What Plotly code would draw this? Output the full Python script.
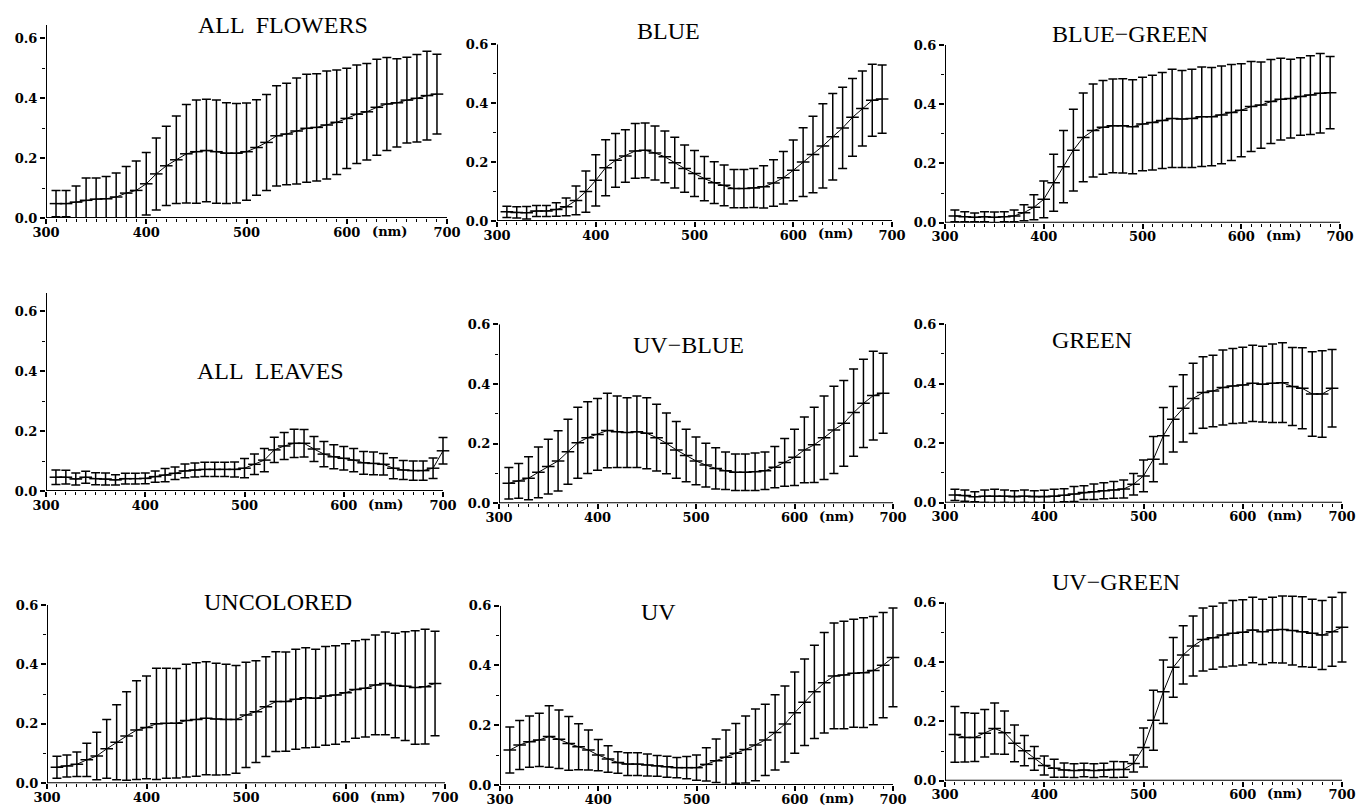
import plotly.graph_objects as go

# ---------------- data ----------------
WAVELENGTHS = [310, 320, 330, 340, 350, 360, 370, 380, 390, 400,
               410, 420, 430, 440, 450, 460, 470, 480, 490, 500,
               510, 520, 530, 540, 550, 560, 570, 580, 590, 600,
               610, 620, 630, 640, 650, 660, 670, 680, 690]
WAVELENGTHS_700 = WAVELENGTHS + [700]
X_TICKS = [300, 400, 500, 600, 700]
Y_TICKS = [0.0, 0.2, 0.4, 0.6]

TITLES = ["ALL  FLOWERS", "BLUE", "BLUE\u2212GREEN",
          "ALL  LEAVES", "UV\u2212BLUE", "GREEN",
          "UNCOLORED", "UV", "UV\u2212GREEN"]

all_flowers_mean = [.048, .048, .053, .059, .063, .064, .070, .083, .092, .114,
                    .147, .174, .194, .214, .221, .225, .221, .216, .216, .221,
                    .235, .252, .274, .280, .290, .299, .302, .310, .319, .332,
                    .346, .354, .369, .380, .384, .393, .399, .408, .413]
all_flowers_sd = [.044, .044, .054, .074, .070, .074, .080, .089, .098, .104,
                  .120, .132, .146, .164, .172, .171, .172, .168, .166, .162,
                  .159, .160, .167, .169, .177, .180, .179, .180, .174, .167,
                  .164, .161, .160, .155, .147, .143, .146, .148, .133]

blue_mean = [.031, .029, .028, .034, .034, .039, .048, .070, .100, .138,
             .181, .206, .221, .238, .240, .231, .218, .198, .178, .161,
             .144, .130, .121, .110, .110, .112, .116, .129, .147, .172,
             .200, .226, .255, .286, .316, .352, .382, .410, .414]
blue_sd = [.019, .019, .021, .019, .019, .023, .030, .049, .070, .087,
           .095, .091, .089, .093, .093, .092, .088, .086, .080, .078,
           .075, .071, .069, .065, .065, .066, .072, .079, .089, .103,
           .117, .130, .143, .147, .138, .132, .127, .122, .116]

blue_green_mean = [.023, .020, .018, .020, .018, .020, .023, .034, .052, .079,
                   .135, .189, .245, .288, .311, .322, .327, .327, .324, .333,
                   .338, .345, .352, .350, .352, .358, .358, .364, .372, .380,
                   .392, .397, .409, .417, .419, .426, .431, .437, .439]
blue_green_sd = [.020, .017, .015, .017, .018, .017, .020, .027, .042, .062,
                 .096, .122, .138, .150, .157, .158, .158, .159, .159, .158,
                 .160, .162, .166, .164, .166, .168, .166, .165, .162, .157,
                 .152, .146, .142, .138, .133, .131, .133, .134, .122]

all_leaves_mean = [.046, .046, .040, .046, .041, .040, .037, .041, .041, .042,
                   .048, .053, .059, .067, .070, .072, .072, .072, .072, .076,
                   .089, .103, .137, .150, .159, .159, .140, .123, .114, .109,
                   .103, .094, .092, .089, .076, .070, .068, .068, .076, .134]
all_leaves_sd = [.024, .023, .020, .020, .020, .020, .017, .018, .018, .018,
                 .019, .022, .021, .023, .023, .024, .024, .024, .025, .032,
                 .034, .039, .042, .045, .047, .046, .042, .042, .040, .039,
                 .039, .038, .038, .036, .035, .032, .032, .032, .034, .044]

uv_blue_mean = [.067, .075, .084, .104, .123, .142, .173, .203, .220, .231,
                .244, .240, .237, .240, .235, .220, .201, .179, .160, .142,
                .128, .117, .109, .104, .104, .106, .109, .121, .137, .154,
                .179, .196, .220, .246, .268, .304, .335, .361, .369]
uv_blue_sd = [.053, .058, .072, .085, .092, .101, .109, .119, .120, .120,
              .125, .120, .117, .120, .119, .112, .102, .095, .088, .080,
              .073, .069, .063, .061, .061, .063, .063, .069, .080, .094,
              .110, .126, .140, .146, .144, .146, .148, .149, .134]

green_mean = [.026, .024, .020, .022, .022, .022, .020, .022, .020, .020,
              .022, .025, .029, .034, .037, .040, .043, .046, .062, .090,
              .146, .225, .280, .317, .350, .370, .375, .387, .392, .395,
              .401, .398, .401, .403, .390, .384, .365, .365, .384]
green_sd = [.019, .019, .017, .021, .023, .021, .020, .021, .020, .022,
            .023, .022, .025, .023, .026, .027, .028, .030, .036, .053,
            .076, .095, .110, .113, .118, .120, .120, .126, .126, .127,
            .128, .127, .132, .134, .131, .136, .142, .145, .130]

uncolored_mean = [.054, .058, .064, .079, .092, .116, .138, .159, .179, .188,
                  .200, .202, .202, .211, .215, .219, .216, .215, .215, .230,
                  .241, .258, .275, .275, .283, .288, .286, .294, .297, .305,
                  .316, .320, .331, .336, .329, .327, .322, .325, .336]
uncolored_sd = [.037, .037, .041, .056, .080, .099, .126, .149, .166, .173,
                .187, .185, .184, .190, .191, .190, .188, .186, .181, .177,
                .171, .168, .168, .167, .168, .168, .165, .166, .166, .165,
                .164, .164, .168, .173, .176, .183, .191, .193, .176]

uv_mean = [.117, .134, .145, .151, .162, .153, .139, .128, .117, .100,
           .087, .075, .070, .070, .067, .064, .061, .058, .058, .058,
           .069, .081, .093, .106, .119, .134, .151, .176, .204, .242,
           .277, .312, .342, .365, .368, .374, .376, .383, .401, .427]
uv_sd = [.077, .082, .086, .089, .103, .098, .090, .077, .067, .052,
         .044, .036, .038, .038, .037, .035, .035, .034, .037, .042,
         .056, .073, .091, .100, .112, .120, .119, .126, .127, .136,
         .145, .156, .168, .177, .180, .181, .184, .181, .176, .165]

uv_green_mean = [.156, .146, .146, .160, .176, .162, .126, .101, .075, .051,
                 .042, .036, .034, .036, .034, .036, .038, .038, .058, .112,
                 .204, .300, .382, .424, .454, .476, .482, .491, .497, .500,
                 .508, .502, .508, .510, .506, .502, .497, .491, .502, .517]
uv_green_sd = [.094, .083, .081, .080, .086, .073, .062, .051, .040, .032,
               .030, .024, .023, .023, .023, .023, .027, .026, .029, .066,
               .101, .107, .101, .098, .101, .106, .106, .108, .110, .110,
               .110, .110, .110, .113, .116, .118, .115, .116, .116, .117]

SERIES = [
    (WAVELENGTHS, all_flowers_mean, all_flowers_sd),
    (WAVELENGTHS, blue_mean, blue_sd),
    (WAVELENGTHS, blue_green_mean, blue_green_sd),
    (WAVELENGTHS_700, all_leaves_mean, all_leaves_sd),
    (WAVELENGTHS, uv_blue_mean, uv_blue_sd),
    (WAVELENGTHS, green_mean, green_sd),
    (WAVELENGTHS, uncolored_mean, uncolored_sd),
    (WAVELENGTHS_700, uv_mean, uv_sd),
    (WAVELENGTHS_700, uv_green_mean, uv_green_sd),
]

# ---------------- layout geometry (pixels) ----------------
W, H = 1356, 806
X_LO, X_HI, X_PAD = 300, 700, 8   # axis line spans X_LO..X_HI; range padded to the right
# x0/x1: pixel of 300/700 nm; y0/y6: pixel of 0.0/0.6; line_top: top of y-axis line; r_top: axis range top
GEOM = [
    dict(x0=46, x1=447, y0=218, y6=38, line_top=0.643, r_top=0.643),
    dict(x0=497, x1=892, y0=221, y6=44.3, line_top=0.6, r_top=0.6),
    dict(x0=945, x1=1340, y0=222.7, y6=45, line_top=0.6, r_top=0.6),
    dict(x0=46, x1=443, y0=491, y6=311, line_top=0.66, r_top=0.66),
    dict(x0=499, x1=893, y0=503.3, y6=324.3, line_top=0.6, r_top=0.6),
    dict(x0=945, x1=1342, y0=502.7, y6=324, line_top=0.6, r_top=0.6),
    dict(x0=47, x1=445, y0=783.3, y6=605, line_top=0.6, r_top=0.6),
    dict(x0=500, x1=893, y0=785, y6=605.7, line_top=0.6, r_top=0.6),
    dict(x0=945, x1=1342, y0=780.7, y6=602.7, line_top=0.6, r_top=0.645),
]
TITLE_POS = [(283, 25), (668, 31), (1130, 34), (270, 371), (688, 345),
             (1092, 340), (278, 602), (658, 612), (1116, 582)]

TICK_FONT = dict(family="DejaVu Serif", size=13, color="black", weight=700)
TITLE_FONT = dict(family="Liberation Serif", size=24, color="black")

fig = go.Figure()
layout = dict(width=W, height=H, margin=dict(l=0, r=0, t=0, b=0, autoexpand=False),
              paper_bgcolor="white", plot_bgcolor="white", showlegend=False,
              template="none")
annotations = []
shapes = []

for i, ((wl, mean, sd), g) in enumerate(zip(SERIES, GEOM), start=1):
    sfx = "" if i == 1 else str(i)
    ppu = (g["y0"] - g["y6"]) / 0.6              # pixels per unit (y)
    ppn = (g["x1"] - g["x0"]) / (X_HI - X_LO)    # pixels per nm (x)
    dom_y = [1 - g["y0"] / H, 1 - (g["y0"] - g["r_top"] * ppu) / H]
    dom_x = [g["x0"] / W, (g["x1"] + X_PAD * ppn) / W]

    fig.add_trace(go.Scatter(
        x=wl, y=mean, mode="lines+markers",
        xaxis="x" + sfx, yaxis="y" + sfx,
        line=dict(color="black", width=1),
        marker=dict(symbol="line-ew", size=9, line=dict(color="black", width=1.5)),
        error_y=dict(type="data", array=sd, symmetric=True, color="black",
                     thickness=1.5, width=4.5),
        hoverinfo="x+y",
    ))

    layout["xaxis" + sfx] = dict(
        domain=dom_x, range=[X_LO, X_HI + X_PAD], anchor="y" + sfx,
        automargin=False,
        showline=False, showgrid=False, zeroline=False,
        tickvals=X_TICKS, ticks="outside", ticklen=5,
        tickwidth=1.5, tickcolor="black", tickfont=TICK_FONT,
        ticklabelstandoff=-3,
        minor=dict(dtick=10, tick0=300, ticks="outside", ticklen=3,
                   tickwidth=1, tickcolor="black", showgrid=False),
    )
    layout["yaxis" + sfx] = dict(
        domain=dom_y, range=[0, g["r_top"]], anchor="x" + sfx,
        automargin=False,
        showline=False, showgrid=False, zeroline=False,
        tickvals=Y_TICKS, tickformat=".1f",
        ticks="outside", ticklen=5, tickwidth=1.5, tickcolor="black",
        tickfont=TICK_FONT,
        minor=dict(tickvals=[0.1, 0.3, 0.5], ticks="outside", ticklen=3,
                   tickwidth=1, tickcolor="black", showgrid=False),
    )
    # axis lines
    shapes.append(dict(type="line", xref="x" + sfx, yref="y" + sfx,
                       x0=X_LO, x1=X_LO, y0=0, y1=g["line_top"],
                       line=dict(color="black", width=2), layer="above"))
    shapes.append(dict(type="line", xref="x" + sfx, yref="y" + sfx,
                       x0=X_LO, x1=X_HI, y0=0, y1=0,
                       line=dict(color="black", width=2), layer="above"))
    # (nm) label
    annotations.append(dict(text="(nm)", xref="x" + sfx, yref="paper",
                            x=643, y=1 - (g["y0"] + 13) / H,
                            xanchor="center", yanchor="middle",
                            showarrow=False, font=TICK_FONT))
    # panel title
    tx, ty = TITLE_POS[i - 1]
    annotations.append(dict(text=TITLES[i - 1], xref="paper", yref="paper",
                            x=tx / W, y=1 - ty / H, xanchor="center",
                            yanchor="middle", showarrow=False, font=TITLE_FONT))

layout["annotations"] = annotations
layout["shapes"] = shapes
fig.update_layout(**layout)
fig.write_html("out.html")
